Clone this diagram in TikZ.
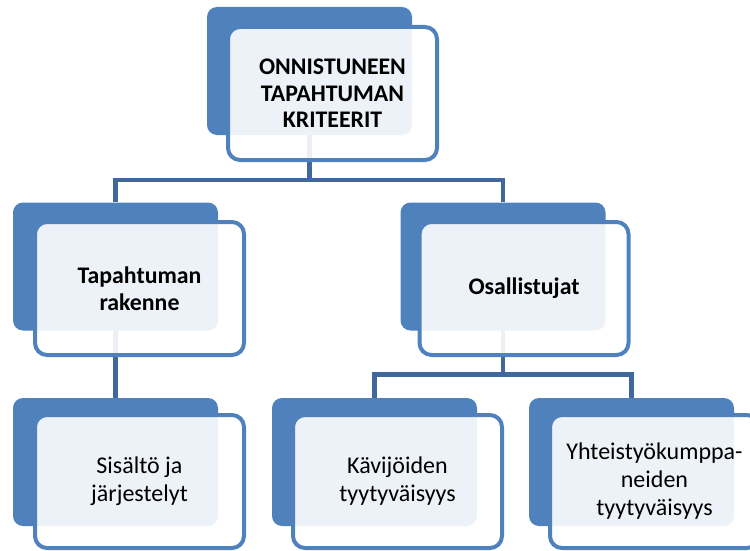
\documentclass[tikz,border=0pt]{standalone}
\usepackage{fontspec}
\setmainfont{Carlito}
\definecolor{accent}{HTML}{4F81BD}
\definecolor{linkblue}{HTML}{41689C}
\begin{document}
\begin{tikzpicture}[x=1pt,y=-1pt,
  backbox/.style={fill=accent, draw=none, rounded corners=10pt,
    minimum width=205pt, minimum height=128pt, inner sep=0pt},
  frontbox/.style={fill=white, fill opacity=0.9, text opacity=1,
    draw=accent, line width=4pt, rounded corners=12pt,
    minimum width=209pt, minimum height=133pt, inner sep=0pt,
    align=center, text=black},
  headtext/.style={font=\fontsize{23.8}{26.5}\selectfont\bfseries},
  leaftext/.style={font=\fontsize{24}{28}\selectfont},
  link/.style={draw=linkblue, line width=4.5pt}]
\useasboundingbox (0,0) rectangle (750,551);
\clip (0,0) rectangle (750,551);

% back panels
\node[backbox] (b0) at (309.5,71)  {};
\node[backbox] (b1) at (115.5,266.5) {};
\node[backbox] (b2) at (503,266.5) {};
\node[backbox] (b3) at (115.5,462) {};
\node[backbox] (b4) at (374.5,462) {};
\node[backbox] (b5) at (631.5,462) {};

% hierarchy links
\draw[link] (b0.south) -- ++(0,45) coordinate (j0) -| (b1.north);
\draw[link] (j0) -| (b2.north);
\draw[link] (b1.south) -- (b3.north);
\draw[link] (b2.south) -- ++(0,44) coordinate (j1) -| (b4.north);
\draw[link] (j1) -| (b5.north);

% front panels with labels
\node[frontbox, headtext] (f0) at (332.5,93.5) {ONNISTUNEEN\\TAPAHTUMAN\\KRITEERIT};
\node[frontbox, headtext] (f1) at (139.5,288.5) {Tapahtuman\\rakenne};
\node[frontbox, headtext] (f2) at (524,288.5) {Osallistujat};
\node[frontbox, leaftext] (f3) at (139.5,481.5) {Sisältö ja\\järjestelyt};
\node[frontbox, leaftext] (f4) at (397.5,481.5) {Kävijöiden\\tyytyväisyys};
\node[frontbox, leaftext] (f5) at (654.5,481.5) {Yhteistyökumppa-\\neiden\\tyytyväisyys};
\end{tikzpicture}
\end{document}
